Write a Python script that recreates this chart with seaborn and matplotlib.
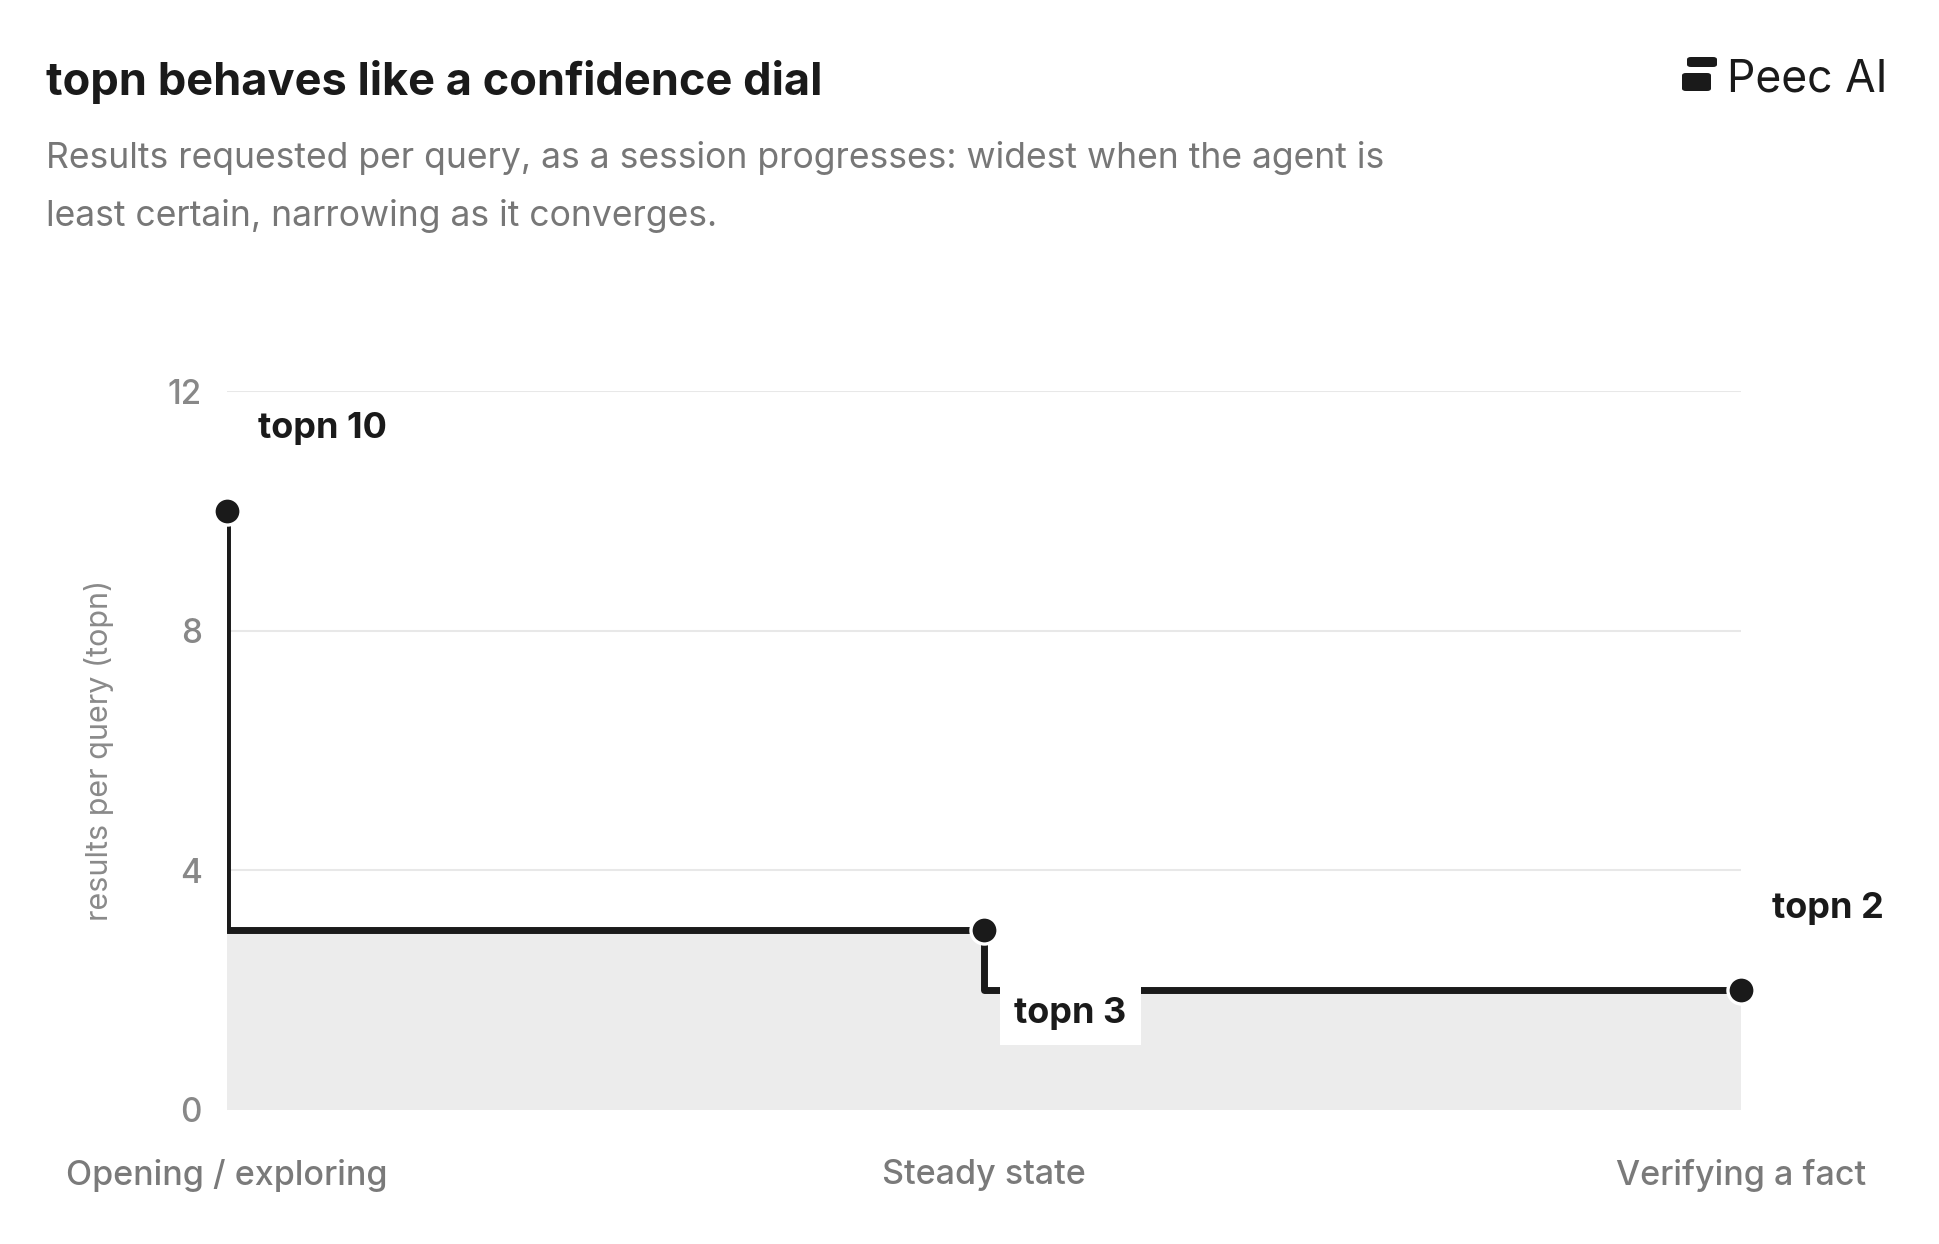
import matplotlib
matplotlib.use("Agg")
import matplotlib.pyplot as plt
from matplotlib.patches import FancyBboxPatch
import seaborn as sns
import pandas as pd

# data
stages = ["Opening / exploring", "Steady state", "Verifying a fact"]
stage_pos = [0, 1, 2]
topn = [10, 3, 2]
point_labels = ["topn 10", "topn 3", "topn 2"]
y_ticks = [0, 4, 8, 12]

df = pd.DataFrame({"pos": stage_pos, "topn": topn, "label": point_labels})

sns.set_theme(style="white")
plt.rcParams["font.family"] = ["Inter", "DejaVu Sans"]

ink = "#1a1a1a"
grey = "#7a7a7a"
W, H = 1940, 1244

fig = plt.figure(figsize=(19.4, 12.44), dpi=100)
ax = fig.add_axes([227 / W, 1 - 1110 / H, 1514 / W, 719 / H])

# shaded area under the steps
ax.fill_between(df["pos"], df["topn"], step="pre", color="#ececec", lw=0, zorder=1)

sns.lineplot(data=df, x="pos", y="topn", drawstyle="steps-pre", color=ink,
             linewidth=5, ax=ax, zorder=3)
sns.scatterplot(data=df, x="pos", y="topn", color=ink, s=380, edgecolor="white",
                linewidth=2.4, ax=ax, zorder=5, clip_on=False)

# point labels
for _, row in df.iterrows():
    if row["label"] == "topn 3":
        ax.annotate(row["label"], (row["pos"], row["topn"]), xytext=(62, -60),
                    textcoords="offset points", ha="center", va="center",
                    fontsize=26, fontweight="bold", color=ink, zorder=6,
                    bbox=dict(boxstyle="square,pad=0.4", fc="white", ec="none"))
    else:
        ax.annotate(row["label"], (row["pos"], row["topn"]), xytext=(22, 59),
                    textcoords="offset points", ha="left", va="center",
                    fontsize=26, fontweight="bold", color=ink, zorder=6,
                    annotation_clip=False)

ax.set_xlim(0, 2)
ax.set_ylim(0, 12)
ax.set_yticks(y_ticks)
ax.set_yticklabels([str(t) for t in y_ticks])
ax.set_xticks(stage_pos)
ax.set_xticklabels(stages)
ax.tick_params(axis="y", length=0, pad=18, labelsize=24, labelcolor="#888888")
ax.tick_params(axis="x", length=0, pad=35, labelsize=24.5, labelcolor=grey)
for lab in ax.get_xticklabels() + ax.get_yticklabels():
    lab.set_fontweight("medium")
ax.grid(axis="y", color="#e8e8e8", linewidth=1.5, zorder=0)
ax.grid(axis="x", visible=False)
ax.set_axisbelow(True)
sns.despine(ax=ax, left=True, bottom=True)
ax.set_xlabel("")
ax.set_ylabel("results per query (topn)", fontsize=22, color="#8a8a8a", labelpad=39)

# header
fig.text(46 / W, 1 - 95 / H, "topn behaves like a confidence dial",
         fontsize=32.5, fontweight="bold", color=ink, ha="left", va="baseline")
fig.text(46 / W, 1 - 168 / H,
         "Results requested per query, as a session progresses: widest when the agent is",
         fontsize=25.6, color="#777777", ha="left", va="baseline")
fig.text(46 / W, 1 - 226 / H, "least certain, narrowing as it converges.",
         fontsize=25.6, color="#777777", ha="left", va="baseline")

# logo
for x0, y0, x1, y1 in [(1687, 57, 1717, 67), (1682, 73, 1711, 91)]:
    fig.add_artist(FancyBboxPatch((x0 / W, 1 - y1 / H), (x1 - x0) / W, (y1 - y0) / H,
                                  boxstyle="round,pad=0,rounding_size=0.002",
                                  transform=fig.transFigure, fc=ink, ec="none"))
fig.text(1727 / W, 1 - 91 / H, "Peec AI", fontsize=32, color=ink,
         ha="left", va="baseline")

fig.savefig("out.png", dpi=100, facecolor="white")
